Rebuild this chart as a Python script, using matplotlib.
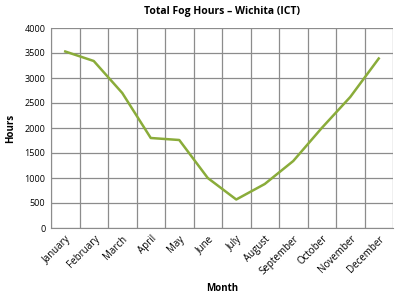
import matplotlib
matplotlib.use("Agg")
import matplotlib.pyplot as plt
import numpy as np

months = ["January", "February", "March", "April", "May", "June", "July",
          "August", "September", "October", "November", "December"]
hours = [3530, 3340, 2700, 1800, 1760, 1000, 570, 880, 1340, 2000, 2620, 3390]

plt.rcParams['font.family'] = ['Open Sans', 'DejaVu Sans']

fig = plt.figure(figsize=(4, 3), dpi=100)
ax = fig.add_axes([51/400, 72/300, 342/400, 200/300])

x = np.arange(len(months))
ax.plot(x, hours, color="#8aac3a", lw=1.8)

ax.set_xlim(-0.5, len(months) - 0.5)
ax.set_ylim(0, 4000)
ax.set_yticks(range(0, 4001, 500))
ax.set_xticks(x)
ax.set_xticklabels(months, rotation=45, ha="right", rotation_mode="anchor", fontsize=7)
ax.set_xticks(np.arange(-0.5, len(months)), minor=True)
ax.tick_params(axis="y", labelsize=6.5, length=0, pad=4)
ax.tick_params(axis="x", which="both", length=0, pad=4)
ax.grid(True, axis="y", color="#8c8c8c", lw=0.9)
ax.grid(True, axis="x", which="minor", color="#8c8c8c", lw=0.9)
ax.set_axisbelow(True)
for s in ["top", "right"]:
    ax.spines[s].set_visible(False)
ax.spines["left"].set_color("#8c8c8c")
ax.spines["bottom"].set_color("#8c8c8c")

ax.set_title("Total Fog Hours \u2013 Wichita (ICT)", fontsize=7.5, fontweight="bold", pad=10)
ax.set_xlabel("Month", fontsize=7, fontweight="bold", labelpad=4)
ax.set_ylabel("Hours", fontsize=7, fontweight="bold", labelpad=6)

fig.savefig("out.png", dpi=100)
